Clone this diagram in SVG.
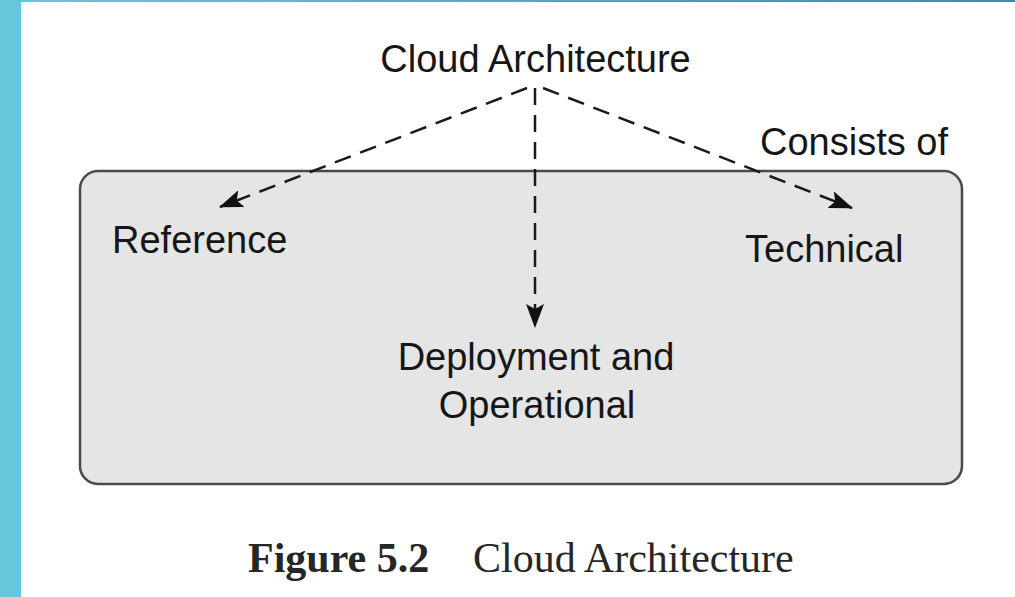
<svg xmlns="http://www.w3.org/2000/svg" width="1015" height="597" viewBox="0 0 1015 597">
  <defs>
    <linearGradient id="topbar" x1="0" y1="0" x2="1" y2="0">
      <stop offset="0" stop-color="#66c6dc"/>
      <stop offset="1" stop-color="#2e8fb0"/>
    </linearGradient>
    <marker id="arrow" markerUnits="userSpaceOnUse" viewBox="0 0 24 18" refX="23" refY="9" markerWidth="24" markerHeight="18" orient="auto">
      <path d="M0,0 L24,9 L0,18 L5,9 Z" fill="#111"/>
    </marker>
  </defs>
  <style>
    .lbl { font-family: "Liberation Sans", Arial, sans-serif; font-size: 38px; fill: #161616; }
    .cap { font-family: "Liberation Serif", "Times New Roman", serif; font-size: 42px; fill: #262626; }
    .conn { stroke: #1a1a1a; stroke-width: 2.5; fill: none; stroke-dasharray: 17 10; marker-end: url(#arrow); }
  </style>
  <rect x="0" y="0" width="1015" height="597" fill="#ffffff"/>
  <rect x="0" y="0" width="21" height="597" fill="#66c6dc"/>
  <rect x="21" y="0" width="994" height="2" fill="url(#topbar)"/>

  <g id="container">
    <rect x="80" y="171" width="882" height="313" rx="18" ry="18" fill="#e5e5e5" stroke="#4a4a4a" stroke-width="2.5"/>
  </g>

  <g id="connectors">
    <line class="conn" x1="527" y1="88" x2="220" y2="207"/>
    <line class="conn" x1="535" y1="88" x2="535" y2="327"/>
    <line class="conn" x1="543" y1="88" x2="852" y2="208"/>
  </g>

  <g id="cloud-architecture">
    <text class="lbl" x="535.5" y="72" text-anchor="middle">Cloud Architecture</text>
  </g>
  <g id="consists-of">
    <text class="lbl" x="948" y="155" text-anchor="end">Consists of</text>
  </g>
  <g id="reference">
    <text class="lbl" x="112" y="253">Reference</text>
  </g>
  <g id="technical">
    <text class="lbl" x="745" y="262">Technical</text>
  </g>
  <g id="deployment">
    <text class="lbl" x="536" y="370" text-anchor="middle">Deployment and</text>
    <text class="lbl" x="537" y="418" text-anchor="middle">Operational</text>
  </g>
  <g id="caption">
    <text class="cap" x="248" y="572"><tspan font-weight="bold">Figure 5.2</tspan></text>
    <text class="cap" x="473" y="572">Cloud Architecture</text>
  </g>
</svg>
